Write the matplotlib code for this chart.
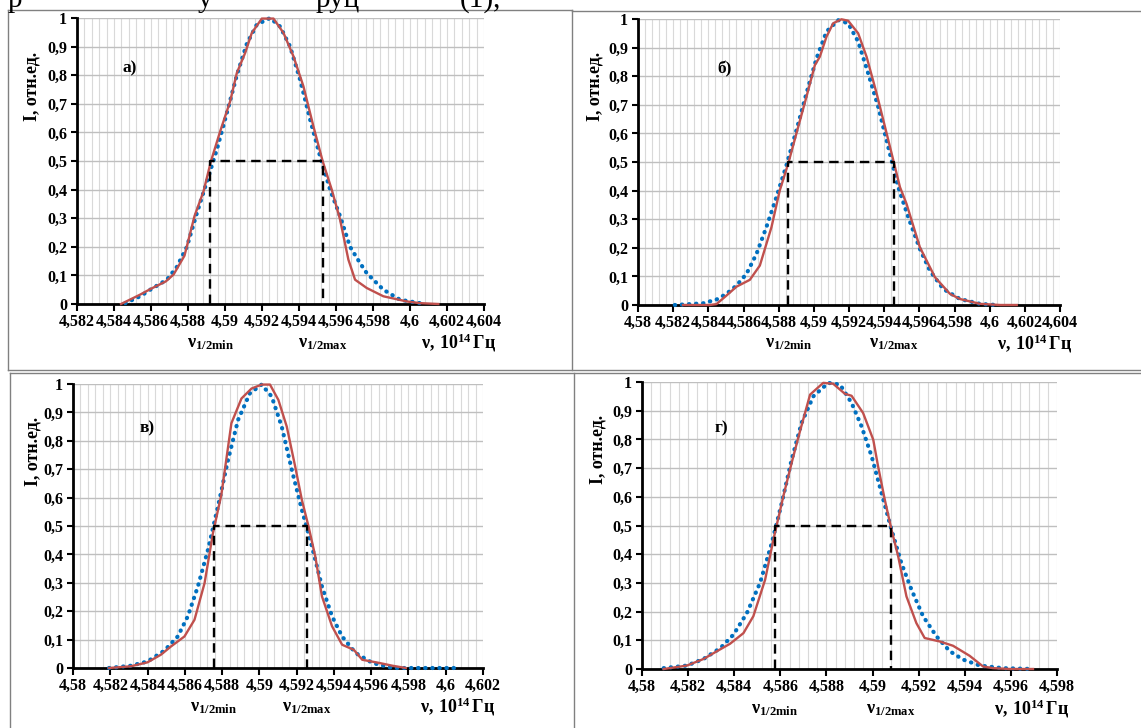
import matplotlib
matplotlib.use("Agg")
import matplotlib.pyplot as plt
from matplotlib.lines import Line2D
from matplotlib.ticker import MultipleLocator, FuncFormatter

plt.rcParams['font.family'] = ['Liberation Serif', 'DejaVu Serif']
plt.rcParams['font.weight'] = 'bold'
plt.rcParams['mathtext.fontset'] = 'custom'
plt.rcParams['mathtext.rm'] = 'Liberation Serif:bold'
plt.rcParams['mathtext.bf'] = 'Liberation Serif:bold'
plt.rcParams['mathtext.it'] = 'Liberation Serif:bold'

W, H = 1141, 728

# ---- данные ----
# а)
a_exp_x = [4.58438, 4.58542, 4.58596, 4.5868, 4.58722, 4.58781, 4.58835, 4.58884, 4.58924, 4.58974,
           4.59028, 4.59064, 4.59109, 4.59145, 4.59199, 4.59262, 4.59316, 4.5937, 4.59424, 4.59478,
           4.59528, 4.59577, 4.59622, 4.59667, 4.59703, 4.59766, 4.59856, 4.59982, 4.60054, 4.60153]
a_exp_y = [0, 0.033, 0.052, 0.079, 0.103, 0.169, 0.307, 0.394, 0.499, 0.604,
           0.709, 0.808, 0.878, 0.948, 0.998, 0.998, 0.948, 0.866, 0.761, 0.621,
           0.499, 0.40, 0.295, 0.155, 0.085, 0.056, 0.027, 0.009, 0.003, 0]
a_fit_x = [4.58461, 4.58542, 4.58596, 4.58686, 4.5874, 4.58794, 4.58848, 4.58911, 4.58956, 4.5901,
           4.59064, 4.59118, 4.59172, 4.59244, 4.59298, 4.59352, 4.59406, 4.5946, 4.59514, 4.59568,
           4.59622, 4.59676, 4.5973, 4.59766, 4.59856, 4.59946, 4.60054]
a_fit_y = [0.003, 0.027, 0.05, 0.085, 0.13, 0.2, 0.318, 0.446, 0.54, 0.668,
           0.80, 0.91, 0.977, 1.0, 0.97, 0.90, 0.784, 0.645, 0.516, 0.40,
           0.307, 0.2, 0.143, 0.108, 0.05, 0.015, 0.003]
a_half = [4.5892, 4.59528]

# б)
b_exp_x = [4.58256, 4.58408, 4.58446, 4.58503, 4.5856, 4.58636, 4.58693, 4.58759, 4.58806, 4.58854,
           4.58901, 4.58958, 4.59006, 4.59034, 4.59072, 4.5911, 4.59157, 4.59195, 4.59252, 4.593,
           4.59357, 4.59414, 4.59452, 4.5949, 4.59527, 4.59603, 4.59689, 4.59774, 4.59831, 4.59945,
           4.60059, 4.60154]
b_exp_y = [0, 0, 0.003, 0.033, 0.064, 0.088, 0.138, 0.272, 0.40, 0.494,
           0.60, 0.728, 0.839, 0.868, 0.938, 0.985, 0.999, 0.994, 0.95, 0.868,
           0.74, 0.60, 0.506, 0.412, 0.354, 0.202, 0.097, 0.039, 0.021, 0.004,
           0, 0]
b_fit_x = [4.58209, 4.5837, 4.58446, 4.58503, 4.5856, 4.58617, 4.58674, 4.5873, 4.58787, 4.58844,
           4.58901, 4.58958, 4.59015, 4.59072, 4.59138, 4.59195, 4.59252, 4.59309, 4.59366, 4.59423,
           4.5948, 4.59537, 4.59603, 4.5966, 4.59736, 4.59831, 4.59945, 4.6004]
b_fit_y = [0, 0.006, 0.019, 0.039, 0.068, 0.109, 0.179, 0.272, 0.377, 0.488,
           0.611, 0.74, 0.862, 0.956, 0.996, 0.985, 0.921, 0.81, 0.693, 0.553,
           0.412, 0.307, 0.196, 0.12, 0.056, 0.021, 0.004, 0]
b_half = [4.58854, 4.59455]

# в)
c_exp_x = [4.58193, 4.5831, 4.584, 4.58472, 4.58526, 4.58598, 4.58652, 4.58706, 4.58751, 4.58796,
           4.5885, 4.58904, 4.58958, 4.59012, 4.59057, 4.59102, 4.59147, 4.59192, 4.59228, 4.59264,
           4.593, 4.59336, 4.5939, 4.59444, 4.59507, 4.59552, 4.59642, 4.59714, 4.59786]
c_exp_y = [0, 0.006, 0.02, 0.047, 0.076, 0.111, 0.17, 0.299, 0.475, 0.61,
           0.862, 0.949, 0.984, 0.998, 0.998, 0.944, 0.85, 0.71, 0.592, 0.498,
           0.393, 0.252, 0.147, 0.082, 0.064, 0.029, 0.018, 0.008, 0]
c_fit_x = [4.58193, 4.5831, 4.584, 4.5849, 4.58562, 4.58616, 4.5867, 4.58724, 4.58778, 4.58832,
           4.58886, 4.58949, 4.59012, 4.59066, 4.5912, 4.59174, 4.59228, 4.59282, 4.59336, 4.5939,
           4.59444, 4.59516, 4.59606, 4.59714, 4.59966, 4.60056]
c_fit_y = [0, 0.008, 0.023, 0.061, 0.111, 0.182, 0.287, 0.416, 0.569, 0.733,
           0.874, 0.967, 0.998, 0.956, 0.85, 0.698, 0.557, 0.428, 0.287, 0.182,
           0.111, 0.053, 0.018, 0, 0, 0]
c_half = [4.58756, 4.59256]

# г)
d_exp_x = [4.58094, 4.58195, 4.58267, 4.58325, 4.58382, 4.5844, 4.58483, 4.58534, 4.5857, 4.58613,
           4.58649, 4.58685, 4.58729, 4.58786, 4.58829, 4.5888, 4.58909, 4.58959, 4.59003, 4.59024,
           4.59053, 4.59082, 4.59111, 4.59147, 4.5919, 4.59226, 4.59291, 4.59349, 4.59421, 4.59479,
           4.59522, 4.59595, 4.59696]
d_exp_y = [0, 0.012, 0.035, 0.062, 0.088, 0.125, 0.184, 0.311, 0.451, 0.602,
           0.718, 0.828, 0.956, 0.997, 0.994, 0.959, 0.952, 0.892, 0.799, 0.706,
           0.59, 0.486, 0.393, 0.253, 0.16, 0.108, 0.096, 0.081, 0.046, 0.009,
           0.003, 0, 0]
d_fit_x = [4.58094, 4.58195, 4.58267, 4.5834, 4.58397, 4.58455, 4.58512, 4.58563, 4.58606, 4.58649,
           4.58692, 4.58743, 4.58808, 4.58859, 4.58909, 4.58952, 4.58996, 4.59039, 4.59082, 4.59125,
           4.59169, 4.59219, 4.59277, 4.59335, 4.59392, 4.59465, 4.59565, 4.59696]
d_fit_y = [0.003, 0.012, 0.035, 0.073, 0.12, 0.195, 0.30, 0.439, 0.578, 0.729,
           0.857, 0.95, 0.997, 0.991, 0.927, 0.846, 0.741, 0.613, 0.486, 0.369,
           0.276, 0.184, 0.114, 0.062, 0.033, 0.012, 0.003, 0]
d_half = [4.58577, 4.59078]

panels = [
    # метка, данные, пределы x, положение осей в пикселях (лево, верх, право, низ)
    ("а)", a_exp_x, a_exp_y, a_fit_x, a_fit_y, a_half, (4.582, 4.604), (77, 18, 484, 304), (0.113, 0.81), 32, 86, 343),
    ("б)", b_exp_x, b_exp_y, b_fit_x, b_fit_y, b_half, (4.580, 4.604), (638, 19, 1060, 305), (0.187, 0.81), 595, 86, 344),
    ("в)", c_exp_x, c_exp_y, c_fit_x, c_fit_y, c_half, (4.580, 4.602), (73, 384, 483, 668), (0.163, 0.83), 33, 451, 707),
    ("г)", d_exp_x, d_exp_y, d_fit_x, d_fit_y, d_half, (4.580, 4.598), (642, 382, 1057, 669), (0.176, 0.826), 598, 449, 709),
]


def fmt_x(v, pos):
    s = f"{v:.3f}".rstrip('0').rstrip('.')
    return s.replace('.', ',')


def fmt_y(v, pos):
    s = f"{v:.1f}".rstrip('0').rstrip('.')
    return s.replace('.', ',')


fig = plt.figure(figsize=(W / 100, H / 100), dpi=100)

for lab, ex, ey, fx, fy, half, xl, box, labpos, ylx, yly, nuy in panels:
    l, t, r, b = box
    ax = fig.add_axes([l / W, 1 - b / H, (r - l) / W, (b - t) / H])
    ax.set_xlim(*xl)
    ax.set_ylim(0, 1)
    ax.xaxis.set_major_locator(MultipleLocator(0.002))
    ax.xaxis.set_minor_locator(MultipleLocator(0.0004))
    ax.yaxis.set_major_locator(MultipleLocator(0.1))
    ax.xaxis.set_major_formatter(FuncFormatter(fmt_x))
    ax.yaxis.set_major_formatter(FuncFormatter(fmt_y))
    ax.grid(True, axis='x', which='both', color='#d9d9d9', lw=0.8)
    ax.grid(True, axis='y', which='major', color='#bfbfbf', lw=1.0)
    ax.set_axisbelow(True)
    for s in ('top', 'right'):
        ax.spines[s].set_visible(False)
    for s in ('left', 'bottom'):
        ax.spines[s].set_linewidth(2)
        ax.spines[s].set_color('black')
    ax.tick_params(axis='x', which='major', direction='out', length=5, width=1.5, pad=2, labelsize=11.5)
    ax.tick_params(axis='x', which='minor', length=0)
    ax.tick_params(axis='y', which='major', direction='out', length=4, width=1.5, pad=3, labelsize=11.5)
    for tl in ax.get_xticklabels() + ax.get_yticklabels():
        tl.set_fontweight('bold')

    # аппроксимация (точки) и эксперимент (сплошная)
    ax.plot(fx, fy, color='#0070c0', lw=3.0, linestyle=(0, (0.1, 1.6)),
            dash_capstyle='round', clip_on=False, zorder=3)
    ax.plot(ex, ey, color='#c0504d', lw=1.7, clip_on=False, zorder=4)

    # ширина на полувысоте
    ax.plot([half[0], half[0], half[1], half[1]], [0, 0.5, 0.5, 0], color='black',
            lw=1.7, linestyle=(0, (4, 2.5)), zorder=5)

    ax.text(labpos[0], labpos[1], lab, transform=ax.transAxes, fontsize=12.5, fontweight='bold')

    fig.text(ylx / W, 1 - yly / H, "I, отн.ед.", rotation=90, ha='center', va='center',
             fontsize=13, fontweight='bold')

    # подписи под осью
    for hx, nm in zip(half, ("min", "max")):
        xf = (ax.transData.transform((hx, 0))[0]) / W
        fig.text(xf, 1 - nuy / H, r"$\mathbf{ν}_{\mathbf{1/2" + nm + "}}$", ha='center', va='center',
                 fontsize=13)
    fig.text((r + 12) / W, 1 - nuy / H, r"$\mathbf{ν,}\,\mathbf{10^{14}}\,\mathbf{Гц}$", ha='right',
             va='center', fontsize=13)

# рамки таблицы
grey = '#808080'
segs = [
    ((8, 572), (10, 10)), ((572, 1141), (11, 11)),
    ((8, 8), (10, 370)), ((572, 572), (10, 370)),
    ((8, 1141), (370, 370)), ((10, 1141), (373, 373)),
    ((10, 10), (373, 728)), ((574, 574), (373, 728)),
]
for xs, ys in segs:
    fig.add_artist(Line2D([x / W for x in xs], [1 - y / H for y in ys], color=grey, lw=1.0))

# обрезанная строка текста сверху (в оригинале видна только нижняя часть)
for xp, s in [(8, "р"), (198, "у"), (316, "руц"), (460, "(1),")]:
    fig.text(xp / W, 1 - 7 / H, s, fontsize=21, fontweight='normal', va='baseline')

fig.savefig("out.png", dpi=100)
